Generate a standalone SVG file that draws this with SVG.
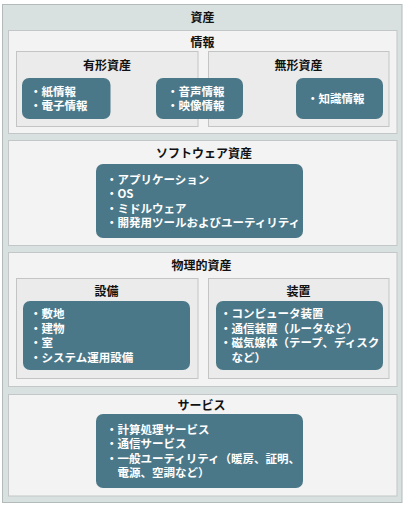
<svg xmlns="http://www.w3.org/2000/svg" width="405" height="505" viewBox="0 0 405 505">
<style>
.outer{fill:#d8e0e0;stroke:#b3baba;stroke-width:1}
.panel{fill:#f3f3f3;stroke:#c3c7c7;stroke-width:1}
.sub{fill:#ebebeb;stroke:#c4c4c4;stroke-width:1}
.node{fill:#4b7889}
.t{font-family:"Noto Sans CJK JP","Liberation Sans",sans-serif;font-weight:bold;font-size:12px;fill:#111;text-anchor:middle}
.n{font-family:"Noto Sans CJK JP","Liberation Sans",sans-serif;font-weight:bold;font-size:11.5px;fill:#fff}
</style>
<rect class="outer" x="2.5" y="4.5" width="399.5" height="498"/>
<text class="t" x="202.5" y="21.6">資産</text>
<g id="info">
<rect class="panel" x="8.5" y="30.5" width="388.5" height="103"/>
<text class="t" x="202.5" y="46.6">情報</text>
<g id="tangible">
<rect class="sub" x="16.5" y="51.5" width="181.5" height="75"/>
<text class="t" x="107" y="69.6">有形資産</text>
</g>
<g id="intangible">
<rect class="sub" x="208.5" y="51.5" width="180.5" height="75"/>
<text class="t" x="298.5" y="69.6">無形資産</text>
</g>
<g id="paper">
<rect class="node" x="22" y="78" width="88.5" height="41" rx="7"/>
<text class="n" x="30" y="95.9">・紙情報<tspan x="30" dy="14.4">・電子情報</tspan></text>
</g>
<g id="av">
<rect class="node" x="156" y="78" width="87" height="41" rx="7"/>
<text class="n" x="167" y="95.9">・音声情報<tspan x="167" dy="14.4">・映像情報</tspan></text>
</g>
<g id="knowledge">
<rect class="node" x="296" y="78" width="87" height="41" rx="7"/>
<text class="n" x="307" y="103">・知識情報</text>
</g>
</g>
<g id="software">
<rect class="panel" x="8.5" y="140.5" width="388.5" height="105"/>
<text class="t" x="204" y="157.6">ソフトウェア資産</text>
<rect class="node" x="96" y="164" width="207" height="74" rx="7"/>
<text class="n" x="106" y="183.8">・アプリケーション<tspan x="106" dy="14.4">・OS</tspan><tspan x="106" dy="14.4">・ミドルウェア</tspan><tspan x="106" dy="14.4">・開発用ツールおよびユーティリティ</tspan></text>
</g>
<g id="physical">
<rect class="panel" x="8.5" y="252.5" width="388.5" height="134"/>
<text class="t" x="201.5" y="269.6">物理的資産</text>
<g id="facility">
<rect class="sub" x="16.5" y="278.5" width="181.5" height="100"/>
<text class="t" x="106.5" y="295.6">設備</text>
<rect class="node" x="23" y="301" width="167" height="69" rx="7"/>
<text class="n" x="30" y="318.3">・敷地<tspan x="30" dy="14.4">・建物</tspan><tspan x="30" dy="14.4">・室</tspan><tspan x="30" dy="14.4">・システム運用設備</tspan></text>
</g>
<g id="device">
<rect class="sub" x="208.5" y="278.5" width="180.5" height="100"/>
<text class="t" x="298.5" y="295.6">装置</text>
<rect class="node" x="216" y="301" width="167" height="69" rx="7"/>
<text class="n" x="220" y="318.3">・コンピュータ装置<tspan x="220" dy="14.4">・通信装置（ルータなど）</tspan><tspan x="220" dy="14.4">・磁気媒体（テープ、ディスク</tspan><tspan x="231.5" dy="14.4">など）</tspan></text>
</g>
</g>
<g id="service">
<rect class="panel" x="8.5" y="394.5" width="388.5" height="101.5"/>
<text class="t" x="201.5" y="409.6">サービス</text>
<rect class="node" x="96" y="414" width="207" height="74" rx="7"/>
<text class="n" x="106" y="433.8">・計算処理サービス<tspan x="106" dy="14.4">・通信サービス</tspan><tspan x="106" dy="14.4">・一般ユーティリティ（暖房、証明、</tspan><tspan x="117.5" dy="14.4">電源、空調など）</tspan></text>
</g>
<g id="connectors"/>
</svg>
